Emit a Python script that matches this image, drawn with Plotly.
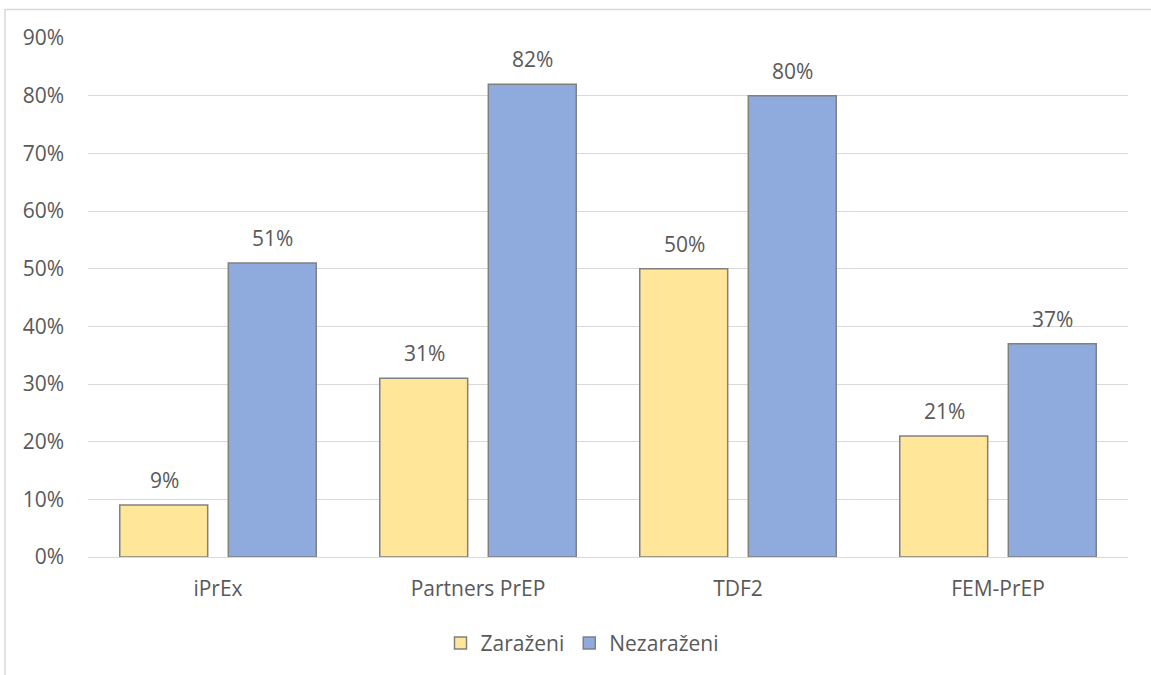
import plotly.graph_objects as go

categories = ["iPrEx", "Partners PrEP", "TDF2", "FEM-PrEP"]
zarazeni = [0.09, 0.31, 0.50, 0.21]
nezarazeni = [0.51, 0.82, 0.80, 0.37]
tick_vals = [0, 0.1, 0.2, 0.3, 0.4, 0.5, 0.6, 0.7, 0.8, 0.9]
tick_text = ["0%", "10%", "20%", "30%", "40%", "50%", "60%", "70%", "80%", "90%"]

FONT = "Open Sans, sans-serif"
TXT = "#595959"
FS = 21

fig = go.Figure()
fig.add_trace(go.Bar(
    name="Zaraženi", x=categories, y=zarazeni,
    marker=dict(color="#FFE699", line=dict(color="#808080", width=1.5)),
))
fig.add_trace(go.Bar(
    name="Nezaraženi", x=categories, y=nezarazeni,
    marker=dict(color="#8FAADC", line=dict(color="#808080", width=1.5)),
))

annotations = []
for series, shift in ((zarazeni, -54), (nezarazeni, 54)):
    for cat, v in zip(categories, series):
        annotations.append(dict(
            x=cat, y=v, xref="x", yref="y", xshift=shift, yshift=25,
            text=f"{round(v*100)}%", showarrow=False,
            font=dict(size=FS, color=TXT, family=FONT),
        ))

fig.update_layout(
    width=1151, height=675,
    margin=dict(l=88, r=23, t=38, b=117),
    paper_bgcolor="white", plot_bgcolor="white",
    barmode="group", bargap=0.165, bargroupgap=0.19,
    font=dict(family=FONT, size=FS, color=TXT),
    showlegend=True,
    annotations=annotations,
    legend=dict(orientation="h", x=0.475, xanchor="center", y=-0.164, yanchor="middle",
                font=dict(size=FS, color=TXT, family=FONT), traceorder="normal",
                itemwidth=30),
    shapes=[dict(type="rect", xref="paper", yref="paper",
                 x0=-0.0798, x1=1.05, y0=-0.3, y1=1.0548,
                 line=dict(color="#d9d9d9", width=1.5), fillcolor="rgba(0,0,0,0)",
                 layer="below")],
)
fig.update_yaxes(range=[0, 0.9], tickvals=tick_vals, ticktext=tick_text,
                 showgrid=True, gridcolor="#d9d9d9", gridwidth=1.2,
                 zeroline=False, showline=False, ticks="", ticklabelstandoff=23,
                 tickfont=dict(size=FS, color=TXT, family=FONT))
fig.update_xaxes(showline=True, linecolor="#d9d9d9", linewidth=1.2, ticks="",
                 tickfont=dict(size=FS, color=TXT, family=FONT), ticklabelstandoff=13)

fig.write_html("out.html", config={"displayModeBar": False},
               post_script="document.body.style.margin='0';")
